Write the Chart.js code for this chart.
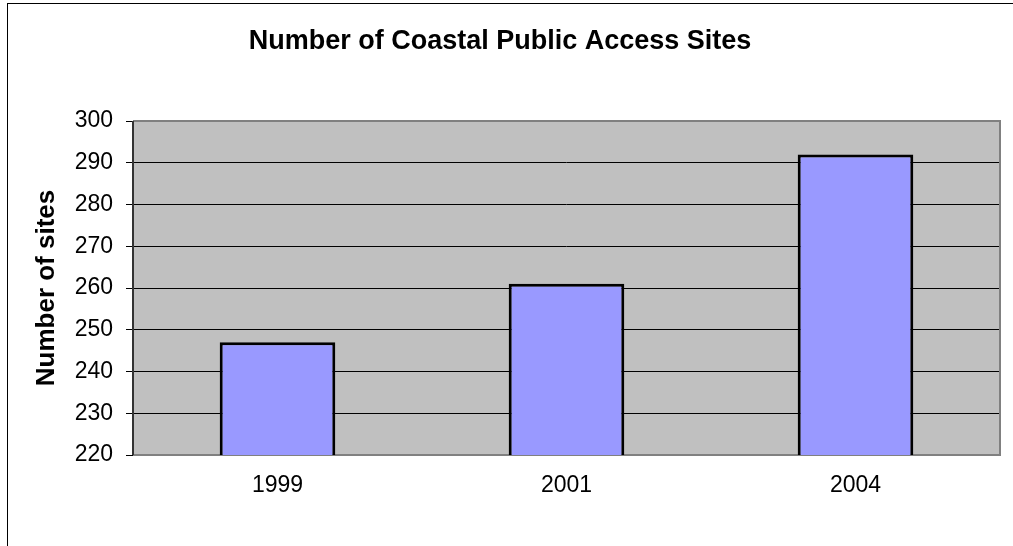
<!DOCTYPE html>
<html>
<head>
<meta charset="utf-8">
<script src="https://cdn.jsdelivr.net/npm/chart.js@4/dist/chart.umd.min.js"></script>
<style>
  body { margin: 0; background: #fff; }
</style>
</head>
<body>
<canvas id="chartSites" width="1013" height="546"></canvas>
<script>
const years = ['1999', '2001', '2004'];
const sites = [247, 261, 292];
const yTicks = [220, 230, 240, 250, 260, 270, 280, 290, 300];

renderChart();

function renderChart() {
    const fontFamily = '"Liberation Sans", Arial, sans-serif';

    // gray plot area + outer frame
    const backdrop = {
        id: 'backdrop',
        beforeDraw(chart) {
            const ctx = chart.ctx;
            const a = chart.chartArea;
            ctx.save();
            ctx.fillStyle = '#fff';
            ctx.fillRect(0, 0, chart.width, chart.height);
            ctx.strokeStyle = '#000';
            ctx.lineWidth = 1;
            ctx.strokeRect(7.5, 3.5, chart.width + 20, chart.height + 20);
            ctx.fillStyle = '#C0C0C0';
            ctx.fillRect(a.left, a.top, a.right - a.left, a.bottom - a.top);
            ctx.restore();
        },
        beforeDatasetsDraw(chart) {
            const ctx = chart.ctx;
            const a = chart.chartArea;
            ctx.save();
            ctx.strokeStyle = '#808080';
            ctx.lineWidth = 2;
            ctx.beginPath();
            ctx.moveTo(a.left, a.top);
            ctx.lineTo(a.right, a.top);
            ctx.lineTo(a.right, a.bottom);
            ctx.lineTo(a.left, a.bottom);
            ctx.stroke();
            ctx.strokeStyle = '#333';
            ctx.beginPath();
            ctx.moveTo(a.left, a.top);
            ctx.lineTo(a.left, a.bottom);
            ctx.stroke();
            ctx.restore();
        }
    };

    const config = {
        type: 'bar',
        data: {
            labels: years,
            datasets: [{
                label: 'Number of sites',
                data: sites,
                backgroundColor: '#9999FF',
                borderColor: '#000',
                borderWidth: 3,
                borderSkipped: false,
                categoryPercentage: 1,
                barPercentage: 0.4,
            }]
        },
        options: {
            responsive: false,
            animation: false,
            layout: { padding: { top: 10, right: 13, bottom: 0, left: 0 } },
            plugins: {
                legend: { display: false },
                tooltip: { enabled: false },
                title: {
                    display: true,
                    text: 'Number of Coastal Public Access Sites',
                    color: '#000',
                    font: { family: fontFamily, size: 27, weight: 'bold' },
                    padding: { top: 15, bottom: 63.6 }
                }
            },
            scales: {
                x: {
                    grid: { display: false, drawTicks: false },
                    border: { display: false },
                    ticks: {
                        color: '#000',
                        padding: 17,
                        font: { family: fontFamily, size: 23 }
                    },
                    afterFit(scale) { scale.height = 91; }
                },
                y: {
                    min: 220,
                    max: 300,
                    afterBuildTicks(scale) {
                        scale.ticks = yTicks.map(v => ({ value: v }));
                    },
                    grid: {
                        color: ctx => (ctx.tick && (ctx.tick.value === 220 || ctx.tick.value === 300)) ? '#808080' : '#000',
                        lineWidth: 1,
                        tickLength: 7,
                        tickColor: '#000'
                    },
                    border: { display: false },
                    ticks: {
                        color: '#000',
                        padding: 13,
                        font: { family: fontFamily, size: 23 }
                    },
                    title: {
                        display: true,
                        text: 'Number of sites',
                        color: '#000',
                        padding: { top: 31, bottom: 0 },
                        font: { family: fontFamily, size: 26, weight: 'bold' }
                    },
                    afterFit(scale) { scale.width = 133; }
                }
            }
        }
    };

    new Chart(document.getElementById('chartSites'), {
        ...config,
        plugins: [backdrop]
    });
}
</script>
</body>
</html>
